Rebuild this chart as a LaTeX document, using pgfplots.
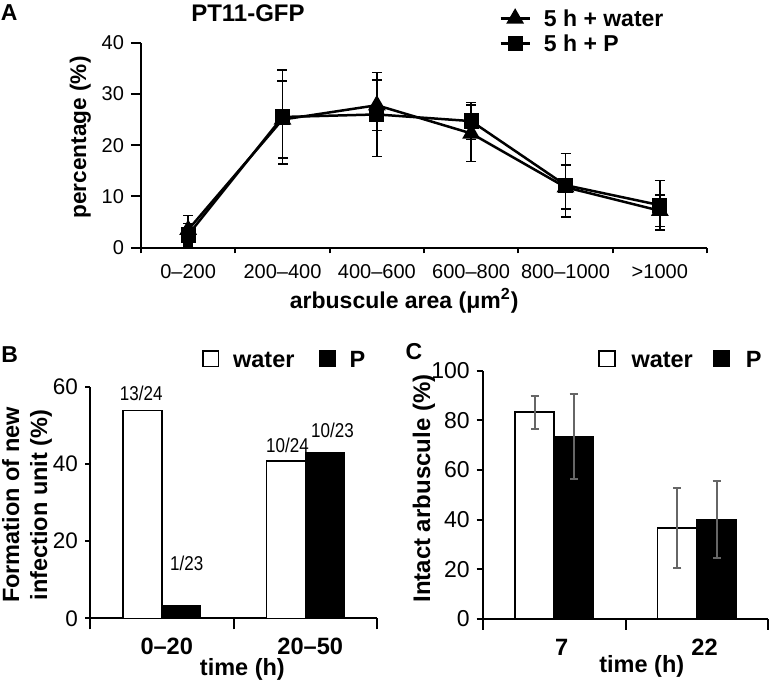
\documentclass[border=0pt]{standalone}
\usepackage{fontspec}
\setmainfont{Liberation Sans}
\usepackage{graphicx}
\usepackage{pgfplots}
\pgfplotsset{compat=1.18}
\definecolor{errgray}{HTML}{666666}
\pgfplotsset{
  sqlegend/.style={legend image code/.code={\draw[##1, line width=0.75pt] (0pt,-3.9pt) rectangle (7.8pt,3.9pt);}},
  lnlegend/.style={legend image code/.code={\draw[mark repeat=2, mark phase=2, ##1] plot coordinates {(0pt,0pt) (7.25pt,0pt) (14.5pt,0pt)};}},
  panel/.style={scale only axis, anchor=south west, axis lines=left,
    axis line style={-, line width=1pt}, tick style={black, line width=1pt},
    tick align=outside, /pgf/number format/assume math mode=true, clip=false,
    enlargelimits=false},
}
\begin{document}
\begin{tikzpicture}
\useasboundingbox (0,0) rectangle (385.5pt,341.5pt);

% ---------------- Panel A ----------------
\begin{axis}[panel, at={(70.5pt,217.65pt)}, width=283pt, height=102.5pt,
  xmin=-0.5, xmax=5.5, ymin=0, ymax=40,
  xtick={0,...,5}, xticklabels={0–200,200–400,400–600,600–800,800–1000,>1000},
  major x tick style={draw=none},
  minor xtick={-0.5,0.5,1.5,2.5,3.5,4.5,5.5},
  ytick={0,10,20,30,40},
  major tick length=5pt, minor tick length=2.8pt,
  tick label style={font=\fontsize{10}{12}\selectfont},
  xlabel={arbuscule area (μm\textsuperscript{2})},
  xlabel style={font=\fontsize{11.5}{13}\selectfont\bfseries, at={(axis description cs:0.465,-0.26)}, anchor=center},
  ylabel={percentage (\%)},
  ylabel style={font=\fontsize{11.3}{13}\selectfont\bfseries, at={(axis description cs:-0.107,0.538)}, anchor=center},
  legend style={at={(axis description cs:0.6325,1.181)}, anchor=north west, draw=none, fill=none,
    inner sep=0pt, font=\fontsize{11.5}{12}\selectfont\bfseries,
    nodes={inner sep=2pt, text height=8.5pt, text depth=0pt},
    /tikz/every odd column/.append style={column sep=4.5pt}},
  legend cell align=left,
]
\addplot[lnlegend, black, line width=1.25pt, mark=triangle*, mark size=3.9pt,
  error bars/.cd, y dir=both, y explicit,
  error bar style={line width=0.8pt, black},
  error mark options={rotate=90, mark size=2.5pt, line width=0.8pt}]
  coordinates {
  (0,3.5) +- (0,2.8)
  (1,25.0) +- (0,7.5)
  (2,27.8) +- (0,4.9)
  (3,22.3) +- (0,5.5)
  (4,11.8) +- (0,4.3)
  (5,7.2) +- (0,3.1)
};
\addlegendentry{5 h + water}
\addplot[lnlegend, black, line width=1.25pt, mark=square*, mark size=3.2pt,
  error bars/.cd, y dir=both, y explicit,
  error bar style={line width=0.8pt, black},
  error mark options={rotate=90, mark size=2.5pt, line width=0.8pt}]
  coordinates {
  (0,2.5) +- (0,2.2)
  (1,25.5) +- (0,9.2)
  (2,26.0) +- (0,8.2)
  (3,24.7) +- (0,3.6)
  (4,12.2) +- (0,6.2)
  (5,8.3) +- (0,4.8)
};
\addlegendentry{5 h + P}
\node[font=\fontsize{12}{14}\selectfont\bfseries] at (axis description cs:0.189,1.145) {PT11-GFP};
\node[font=\fontsize{11.5}{13}\selectfont\bfseries] at (axis description cs:-0.233,1.147) {A};
\end{axis}

% ---------------- Panel B ----------------
\begin{axis}[panel, at={(45pt,32.35pt)}, width=143.5pt, height=115.8pt,
  ybar=0pt, bar width=19.35pt,
  every axis plot post/.append style={sqlegend},
  xmin=-0.5, xmax=1.5, ymin=0, ymax=60,
  xtick={0,1}, xticklabels={0–20,20–50},
  major x tick style={draw=none},
  minor xtick={-0.5,0.5,1.5},
  ytick={0,20,40,60},
  major tick length=2.5pt, minor tick length=5.5pt,
  yticklabel style={font=\fontsize{11.25}{13}\selectfont},
  xticklabel style={font=\fontsize{11.8}{13}\selectfont\bfseries, yshift=-3.6pt, xshift=2.5pt},
  xlabel={time (h)},
  xlabel style={font=\fontsize{11.75}{13}\selectfont\bfseries, at={(axis description cs:0.531,-0.219)}, anchor=center},
  ylabel={Formation of new\\infection unit (\%)},
  ylabel style={align=center, font=\fontsize{11.75}{14}\selectfont\bfseries, at={(axis description cs:-0.2195,0.489)}, anchor=center},
  legend style={at={(axis description cs:0.389,1.1205)}, anchor=west, draw=none, fill=none,
    inner sep=0pt, font=\fontsize{11.75}{13}\selectfont\bfseries, legend columns=2,
    nodes={inner sep=0pt, text height=8.5pt, text depth=0pt},
    /tikz/every odd column/.append style={column sep=7pt},
    /tikz/every even column/.append style={column sep=12pt}},
]
\addplot[fill=white, draw=black, line width=0.75pt] coordinates {(0,53.8) (1,40.8)};
\addlegendentry{water}
\addplot[fill=black, draw=black, line width=0.75pt] coordinates {(0,3.3) (1,42.9)};
\addlegendentry{P}
\node[font=\fontsize{10}{12}\selectfont] at (axis cs:-0.143,58.3) {\scalebox{0.85}[1]{13/24}};
\node[font=\fontsize{10}{12}\selectfont] at (axis cs:0.174,14.25) {\scalebox{0.85}[1]{1/23}};
\node[font=\fontsize{10}{12}\selectfont] at (axis cs:0.876,44.9) {\scalebox{0.85}[1]{10/24}};
\node[font=\fontsize{10}{12}\selectfont] at (axis cs:1.190,48.7) {\scalebox{0.85}[1]{10/23}};
\node[font=\fontsize{11.5}{13}\selectfont\bfseries] at (axis description cs:-0.280,1.138) {B};
\end{axis}

% ---------------- Panel C ----------------
\begin{axis}[panel, at={(241.35pt,32pt)}, width=142.8pt, height=124.15pt,
  ybar=0pt, bar width=19.6pt,
  every axis plot post/.append style={sqlegend},
  xmin=-0.5, xmax=1.5, ymin=0, ymax=100,
  xtick={0,1}, xticklabels={7,22},
  major x tick style={draw=none},
  minor xtick={-0.5,0.5,1.5},
  ytick={0,20,40,60,80,100},
  major tick length=3pt, minor tick length=5.5pt,
  yticklabel style={font=\fontsize{11.5}{13}\selectfont},
  xticklabel style={font=\fontsize{11.8}{13}\selectfont\bfseries, yshift=-3.6pt, xshift=3.8pt},
  xlabel={time (h)},
  xlabel style={font=\fontsize{11.75}{13}\selectfont\bfseries, at={(axis description cs:0.557,-0.192)}, anchor=center},
  ylabel={Intact arbuscule (\%)},
  ylabel style={font=\fontsize{12}{14}\selectfont\bfseries, at={(axis description cs:-0.2055,0.525)}, anchor=center},
  legend style={at={(axis description cs:0.4037,1.048)}, anchor=west, draw=none, fill=none,
    inner sep=0pt, font=\fontsize{11.75}{13}\selectfont\bfseries, legend columns=2,
    nodes={inner sep=0pt, text height=8.5pt, text depth=0pt},
    /tikz/every odd column/.append style={column sep=8pt},
    /tikz/every even column/.append style={column sep=10pt}},
]
\addplot[fill=white, draw=black, line width=0.75pt,
  error bars/.cd, y dir=both, y explicit,
  error bar style={line width=1pt, errgray},
  error mark options={rotate=90, mark size=2pt, line width=1pt, errgray}]
  coordinates {(0,83.3) +- (0,6.7) (1,36.7) +- (0,16.1)};
\addlegendentry{water}
\addplot[fill=black, draw=black, line width=0.75pt,
  error bars/.cd, y dir=both, y explicit,
  error bar style={line width=1pt, errgray},
  error mark options={rotate=90, mark size=2pt, line width=1pt, errgray}]
  coordinates {(0,73.5) +- (0,17.2) (1,40.1) +- (0,15.5)};
\addlegendentry{P}
\node[font=\fontsize{11.5}{13}\selectfont\bfseries] at (axis description cs:-0.2405,1.078) {C};
\end{axis}
\end{tikzpicture}
\end{document}
